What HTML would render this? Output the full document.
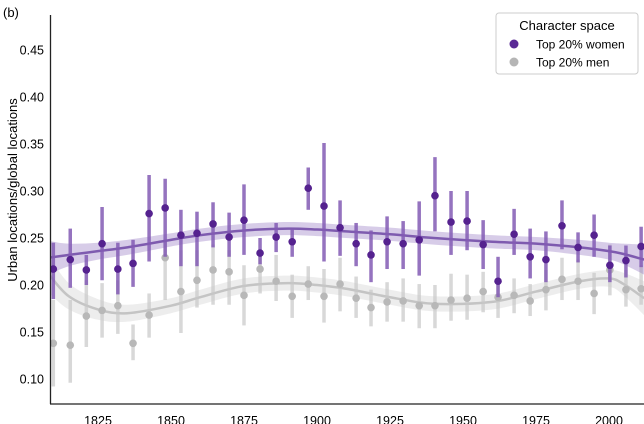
<!DOCTYPE html>
<html><head><meta charset="utf-8"><style>
body{margin:0;background:#fff;}
svg{display:block;font-family:"Liberation Sans",Arial,sans-serif;}
</style></head><body>
<svg id="chart" width="644" height="424" xmlns="http://www.w3.org/2000/svg">
<text x="3" y="17" font-size="13" fill="#000">(b)</text>
<g id="plot"></g>
<g id="axes"></g>
<text transform="translate(17,190) rotate(-90)" text-anchor="middle" font-size="13" fill="#000">Urban locations/global locations</text>
<g>
<rect x="496" y="13" width="142" height="61" rx="3" fill="#fff" stroke="#ccc"/>
<text x="567" y="30" text-anchor="middle" font-size="13" fill="#000">Character space</text>
<circle cx="514" cy="44" r="4.5" fill="#5a2a96"/>
<text x="536" y="48.5" font-size="12" fill="#000">Top 20% women</text>
<circle cx="514" cy="62" r="4.5" fill="#b5b5b5"/>
<text x="536" y="66.5" font-size="12" fill="#000">Top 20% men</text>
</g>
</svg>
<script>
const years = [1809.7,1815.5,1821,1826.4,1831.8,1837,1842.5,1848,1853.4,1858.9,1864.4,1869.9,1875,1880.5,1886,1891.5,1897,1902.4,1907.9,1913.4,1918.5,1924,1929.5,1935,1940.4,1945.9,1951.4,1956.9,1962,1967.5,1973,1978.4,1983.9,1989.4,1994.9,2000.3,2005.8,2011]
const womenVal = [0.217,0.227,0.216,0.244,0.217,0.223,0.276,0.282,0.253,0.255,0.265,0.251,0.269,0.234,0.251,0.246,0.303,0.284,0.261,0.244,0.232,0.246,0.244,0.248,0.295,0.267,0.268,0.243,0.204,0.254,0.230,0.227,0.263,0.240,0.253,0.221,0.226,0.241];
const womenLo = [0.185,0.197,0.200,0.205,0.190,0.198,0.225,0.230,0.220,0.220,0.240,0.230,0.232,0.222,0.235,0.230,0.280,0.225,0.231,0.220,0.203,0.217,0.217,0.210,0.257,0.232,0.237,0.217,0.187,0.232,0.207,0.203,0.238,0.224,0.230,0.203,0.208,0.219];
const womenHi = [0.245,0.260,0.232,0.283,0.245,0.248,0.317,0.313,0.280,0.278,0.288,0.277,0.307,0.250,0.266,0.260,0.325,0.351,0.290,0.266,0.258,0.273,0.268,0.289,0.336,0.300,0.300,0.269,0.230,0.281,0.260,0.257,0.290,0.256,0.275,0.242,0.242,0.262];
const menVal = [0.138,0.136,0.167,0.173,0.178,0.138,0.168,0.229,0.193,0.205,0.216,0.214,0.189,0.217,0.204,0.188,0.201,0.188,0.201,0.186,0.176,0.182,0.183,0.178,0.178,0.184,0.186,0.193,0.187,0.189,0.183,0.195,0.206,0.204,0.191,0.216,0.195,0.196];
const menLo = [0.092,0.096,0.134,0.144,0.148,0.120,0.144,0.184,0.149,0.176,0.179,0.179,0.157,0.191,0.183,0.165,0.184,0.160,0.172,0.165,0.156,0.161,0.161,0.154,0.154,0.162,0.163,0.171,0.165,0.170,0.167,0.173,0.184,0.184,0.169,0.189,0.177,0.179];
const menHi = [0.184,0.184,0.205,0.202,0.205,0.158,0.191,0.248,0.237,0.237,0.243,0.237,0.221,0.237,0.232,0.211,0.220,0.217,0.229,0.209,0.195,0.203,0.207,0.201,0.200,0.212,0.211,0.214,0.201,0.207,0.201,0.216,0.229,0.227,0.213,0.243,0.216,0.221];
const fitYears = [1808,1815,1825,1835,1850,1860,1875,1890,1900,1910,1925,1940,1960,1975,1990,2000,2005,2012];
const womenFit = [0.229,0.232,0.236,0.240,0.248,0.253,0.258,0.260,0.259,0.257,0.254,0.250,0.246,0.244,0.240,0.236,0.233,0.227];
const menFit = [0.212,0.188,0.174,0.170,0.178,0.187,0.199,0.202,0.200,0.196,0.187,0.180,0.182,0.193,0.204,0.207,0.201,0.186];
const womenBand = [0.018,0.012,0.009,0.008,0.007,0.007,0.007,0.007,0.007,0.007,0.007,0.007,0.007,0.007,0.008,0.009,0.011,0.016];
const menBand = [0.020,0.014,0.011,0.009,0.008,0.008,0.008,0.008,0.008,0.008,0.008,0.008,0.008,0.008,0.008,0.009,0.012,0.018];
const xTicks = [1825,1850,1875,1900,1925,1950,1975,2000];
const yTicks = [0.10,0.15,0.20,0.25,0.30,0.35,0.40,0.45];

const X = y => 98 + (y - 1825) * 2.92;
const Y = v => 379 - (v - 0.10) * 940;
const NS = "http://www.w3.org/2000/svg";
const plot = document.getElementById('plot'), axes = document.getElementById('axes');
function mk(tag, attrs, parent){const e=document.createElementNS(NS,tag);for(const k in attrs)e.setAttribute(k,attrs[k]);parent.appendChild(e);return e;}
const clip = mk('clipPath',{id:'pc'},plot); mk('rect',{x:50,y:0,width:594,height:404},clip);
const g = mk('g',{'clip-path':'url(#pc)'},plot);
function curve(ys){return fitYears.map((t,i)=>[X(t),Y(ys[i])]);}
function smoothPath(pts){let d='M'+pts[0][0]+','+pts[0][1];for(let i=0;i<pts.length-1;i++){const p0=pts[Math.max(i-1,0)],p1=pts[i],p2=pts[i+1],p3=pts[Math.min(i+2,pts.length-1)];d+=' C'+(p1[0]+(p2[0]-p0[0])/6)+','+(p1[1]+(p2[1]-p0[1])/6)+' '+(p2[0]-(p3[0]-p1[0])/6)+','+(p2[1]-(p3[1]-p1[1])/6)+' '+p2[0]+','+p2[1];}return d;}
function drawSeries(name,val,lo,hi,fit,band,dot,bar,lineC,bandC){
  const up=curve(fit.map((v,i)=>v+band[i])), dn=curve(fit.map((v,i)=>v-band[i])).reverse();
  const b=mk('path',{d:smoothPath(up)+' L'+smoothPath(dn).slice(1)+' Z',fill:bandC},g);
  
  
  const l=mk('path',{d:smoothPath(curve(fit)),fill:'none',stroke:lineC,'stroke-width':2.5},g);
  
  
  years.forEach((t,i)=>{
    const e=mk('line',{x1:X(t),x2:X(t),y1:Y(hi[i]),y2:Y(lo[i]),stroke:bar,'stroke-width':3.5},g);
    
    
  });
  years.forEach((t,i)=>{
    const c=mk('circle',{cx:X(t),cy:Y(val[i]),r:3.8,fill:dot},g);
    
    
  });
}
drawSeries('men',menVal,menLo,menHi,menFit,menBand,'#b8b8b8','rgba(200,200,200,0.7)','rgba(185,185,185,0.8)','rgba(215,215,215,0.45)');
drawSeries('women',womenVal,womenLo,womenHi,womenFit,womenBand,'#55228f','rgba(130,90,180,0.85)','rgba(110,70,165,0.85)','rgba(140,110,190,0.35)');
const sp1=mk('line',{x1:50.5,x2:50.5,y1:15,y2:404,stroke:'#222','stroke-width':1.3},axes);


const sp2=mk('line',{x1:50,x2:644,y1:404,y2:404,stroke:'#222','stroke-width':1.3},axes);


yTicks.forEach(v=>{const t=mk('text',{x:44,y:Y(v)+4.5,'text-anchor':'end','font-size':12.5,fill:'#000'},axes);t.textContent=v.toFixed(2);
  
  });
xTicks.forEach(v=>{const t=mk('text',{x:X(v),y:425,'text-anchor':'middle','font-size':12.5,fill:'#000'},axes);t.textContent=v;
  
  });
</script>
</body></html>
